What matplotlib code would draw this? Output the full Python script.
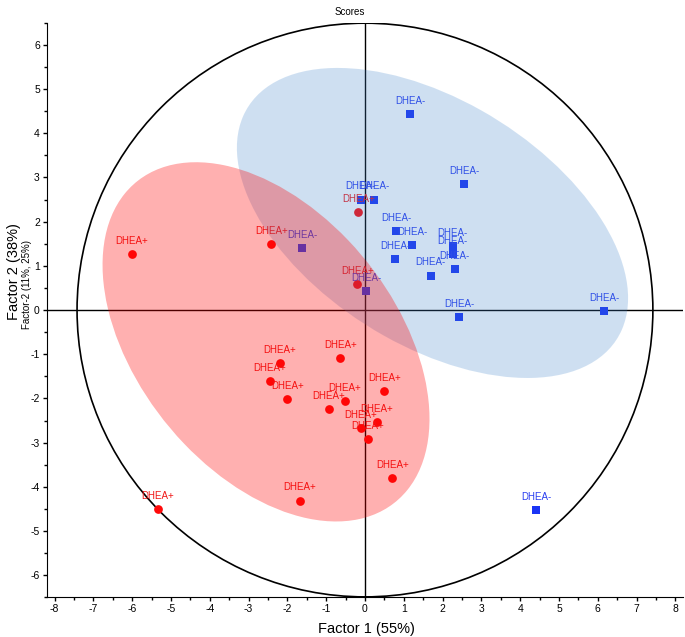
import numpy as np
import matplotlib
matplotlib.use("Agg")
import matplotlib.pyplot as plt
from matplotlib.patches import Ellipse
from matplotlib.ticker import MultipleLocator

plt.rcParams['font.family'] = ['Liberation Sans', 'DejaVu Sans']
plt.rcParams['axes.unicode_minus'] = False

# scores, DHEA+ group (circles)
red_x = [-6.01, -2.41, -5.34, -0.17, -0.20, -0.64, -2.19, -2.45, -2.00, -0.93, -0.52, 0.50, 0.30, -0.10, 0.07, 0.70, -1.68]
red_y = [1.26, 1.49, -4.51, 2.22, 0.59, -1.09, -1.20, -1.60, -2.01, -2.25, -2.05, -1.84, -2.54, -2.68, -2.91, -3.81, -4.31]
red_label = "DHEA+"

# scores, DHEA- group (squares)
blue_x = [1.16, 2.55, -0.11, 0.24, -1.61, 0.80, 1.21, 0.78, 2.26, 2.26, 2.31, 1.69, 0.03, 2.43, 6.17, 4.41]
blue_y = [4.43, 2.85, 2.50, 2.50, 1.41, 1.79, 1.47, 1.15, 1.45, 1.27, 0.92, 0.78, 0.42, -0.15, -0.02, -4.52]
blue_label = "DHEA-"

# group regions: center x, center y, width, height, angle
red_region = [-2.55, -0.72, 9.90, 6.25, -42.6]
blue_region = [1.74, 1.97, 10.89, 5.68, -26.3]
# Hotelling T2 limit (x, y semi-axes)
t2_limit = [7.42, 6.49]

xticks = list(range(-8, 9))
yticks = list(range(-6, 7))

fig = plt.figure(figsize=(6.85, 6.37), dpi=100)
ax = fig.add_axes([0.0683, 0.0623, 0.929, 0.902])

ax.axhline(0, color='black', lw=1, zorder=1)
ax.axvline(0, color='black', lw=1, zorder=1)
ax.add_patch(Ellipse((0, 0), 2*t2_limit[0], 2*t2_limit[1], fill=False, ec='black', lw=1.2, zorder=1))

ax.plot(red_x, red_y, 'o', color='#ff0a0a', ms=6.3, mew=0, zorder=3)
ax.plot(blue_x, blue_y, 's', color='#1a34f5', ms=6.3, mew=0, zorder=3)
for x, y in zip(red_x, red_y):
	ax.annotate(red_label, (x, y), xytext=(0, 9.4), textcoords='offset points', ha='center', va='center',
		fontsize=7, color='#f01818', zorder=4)
for x, y in zip(blue_x, blue_y):
	ax.annotate(blue_label, (x, y), xytext=(0, 9.4), textcoords='offset points', ha='center', va='center',
		fontsize=7, color='#2a3ef0', zorder=4)

# shaded regions drawn on top of everything
ax.add_patch(Ellipse((blue_region[0], blue_region[1]), blue_region[2], blue_region[3], angle=blue_region[4],
	fc='#3f83cb', alpha=0.25, ec='none', zorder=5))
ax.add_patch(Ellipse((red_region[0], red_region[1]), red_region[2], red_region[3], angle=red_region[4],
	fc='red', alpha=0.31, ec='none', zorder=6))

ax.set_xlim(-8.2, 8.2)
ax.set_ylim(-6.5, 6.5)
ax.set_xticks(xticks)
ax.set_yticks(yticks)
ax.xaxis.set_minor_locator(MultipleLocator(0.5))
ax.yaxis.set_minor_locator(MultipleLocator(0.5))
ax.tick_params(which='major', direction='out', length=3, width=1, labelsize=7.5, pad=2)
ax.tick_params(which='minor', direction='out', length=2, width=1)
ax.spines['top'].set_visible(False)
ax.spines['right'].set_visible(False)

fig.text(350/685, 1-12/637, "Scores", ha='center', va='center', fontsize=7)
fig.text(366/685, 1-629/637, "Factor 1 (55%)", ha='center', va='center', fontsize=10.5)
fig.text(14/685, 1-272/637, "Factor 2 (38%)", ha='center', va='center', rotation=90, fontsize=10.5)
fig.text(27/685, 1-285/637, "Factor-2 (11%, 25%)", ha='center', va='center', rotation=90, fontsize=7)

fig.savefig("out.png", dpi=100)
